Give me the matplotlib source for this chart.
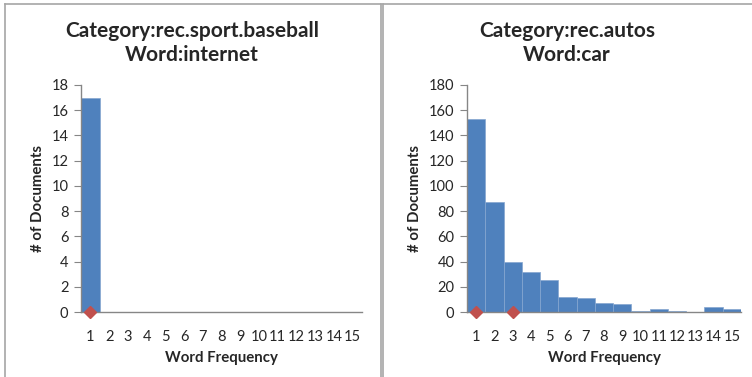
import matplotlib
matplotlib.use('Agg')
import matplotlib.pyplot as plt
from matplotlib.lines import Line2D

plt.rcParams['font.family'] = ['Lato', 'DejaVu Sans']

# Histogram data: documents per word frequency
freq = list(range(1, 16))
baseball_counts = [17, 0, 0, 0, 0, 0, 0, 0, 0, 0, 0, 0, 0, 0, 0]
autos_counts = [153, 87, 40, 32, 25, 12, 11, 7, 6, 1, 2, 1, 0, 4, 2]

# red markers sitting on the x axis
baseball_marks = [1]
autos_marks = [1, 3]

panels = [
    ('Category:rec.sport.baseball\nWord:internet', baseball_counts, baseball_marks, 18, 2),
    ('Category:rec.autos\nWord:car', autos_counts, autos_marks, 180, 20),
]

W, H = 752, 377
fig = plt.figure(figsize=(W / 100, H / 100), dpi=100)

blue = '#4F81BD'
red = '#C0504D'
gray = '#868686'
frame = '#A6A6A6'
txt = '#262626'

ax_boxes = [(81, 362), (467, 741)]
panel_x = [(5, 380.5), (382.5, 760)]
title_x = [192, 567]

for (title, counts, marks, ymax, step), (x0, x1), (px0, px1), tx in zip(panels, ax_boxes, panel_x, title_x):
    ax = fig.add_axes([x0 / W, 1 - 312 / H, (x1 - x0) / W, 227 / H])
    ax.bar(freq, counts, width=1.0, color=blue, edgecolor='#85A6D0', linewidth=0.5)
    ax.plot(marks, [0] * len(marks), 'D', color=red, markersize=6.5, clip_on=False, zorder=5)
    ax.set_xlim(0.5, 15.5)
    ax.set_ylim(0, ymax)
    ax.set_yticks(range(0, ymax + 1, step))
    ax.set_xticks(freq)
    for s in ['top', 'right']:
        ax.spines[s].set_visible(False)
    for s in ['left', 'bottom']:
        ax.spines[s].set_color(gray)
        ax.spines[s].set_linewidth(1.0)
    ax.tick_params(axis='y', colors=gray, length=5, width=0.8, labelsize=10.5, labelcolor=txt, pad=4)
    ax.tick_params(axis='x', length=0, labelsize=10.5, labelcolor=txt, pad=13)
    ax.set_xlabel('Word Frequency', fontsize=10.8, fontweight='bold', color=txt, labelpad=5)
    ax.set_ylabel('# of Documents', fontsize=10.8, fontweight='bold', color=txt, labelpad=5)
    fig.text(tx / W, 1 - 43 / H, title, ha='center', va='center',
             fontsize=15, fontweight='bold', color=txt, linespacing=1.28)

    # gray panel frame (left, top, right edges)
    fig.add_artist(Line2D([px0 / W, px0 / W], [0, 1 - 4 / H], color=frame, lw=1.2))
    fig.add_artist(Line2D([px0 / W, px1 / W], [1 - 4 / H, 1 - 4 / H], color=frame, lw=1.2))
    if px1 < 752:
        fig.add_artist(Line2D([px1 / W, px1 / W], [0, 1 - 4 / H], color=frame, lw=1.2))

fig.savefig('out.png', dpi=100)
